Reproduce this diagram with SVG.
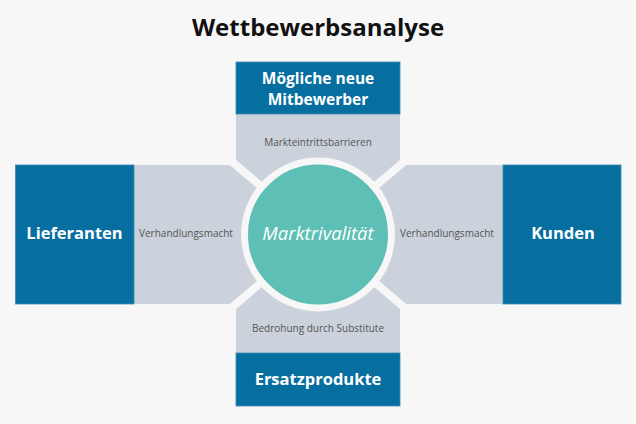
<svg xmlns="http://www.w3.org/2000/svg" width="636" height="424" viewBox="0 0 636 424">
  <style>
    .bg { fill: #f7f7f7; }
    .blue { fill: #076f9f; stroke: #3a8cb5; stroke-width: 0.8; }
    .arm { fill: #cbd2db; }
    .sep { stroke: #f7f7f7; stroke-width: 8; fill: none; }
    .title { font-family: "Open Sans", "Liberation Sans", sans-serif; font-weight: 700; font-size: 24px; fill: #111111; text-anchor: middle; }
    .head { font-family: "Open Sans", "Liberation Sans", sans-serif; font-weight: 700; font-size: 16.5px; fill: #ffffff; text-anchor: middle; }
    .head2 { font-size: 15.5px; }
    .lbl { font-family: "Open Sans", "Liberation Sans", sans-serif; font-size: 10px; fill: #555555; text-anchor: middle; }
    .core { font-family: "Open Sans", "Liberation Sans", sans-serif; font-style: italic; font-size: 18.5px; fill: #ffffff; text-anchor: middle; }
  </style>
  <rect class="bg" x="0" y="0" width="636" height="424"/>
  <text class="title" x="318" y="36">Wettbewerbsanalyse</text>

  <g id="arms">
    <rect class="arm" x="236" y="114" width="164" height="239"/>
    <rect class="arm" x="134" y="165" width="369" height="139"/>
  </g>

  <g id="connectors">
    <line class="sep" x1="318" y1="234.5" x2="211" y2="144"/>
    <line class="sep" x1="318" y1="234.5" x2="425" y2="144"/>
    <line class="sep" x1="318" y1="234.5" x2="211" y2="325"/>
    <line class="sep" x1="318" y1="234.5" x2="425" y2="325"/>
  </g>

  <g id="neue-mitbewerber">
    <rect class="blue" x="236" y="62" width="164" height="52"/>
    <text class="head head2" x="318" y="83.5">Mögliche neue<tspan x="318" dy="21.5">Mitbewerber</tspan></text>
    <text class="lbl" x="318" y="146">Markteintrittsbarrieren</text>
  </g>

  <g id="lieferanten">
    <rect class="blue" x="15.5" y="165" width="118.5" height="139"/>
    <text class="head" x="74.5" y="239">Lieferanten</text>
    <text class="lbl" x="186" y="237">Verhandlungsmacht</text>
  </g>

  <g id="kunden">
    <rect class="blue" x="503" y="165" width="118" height="139"/>
    <text class="head" x="563" y="239">Kunden</text>
    <text class="lbl" x="447" y="237">Verhandlungsmacht</text>
  </g>

  <g id="ersatzprodukte">
    <rect class="blue" x="236" y="353" width="164" height="53"/>
    <text class="head" x="318" y="385">Ersatzprodukte</text>
    <text class="lbl" x="318" y="332">Bedrohung durch Substitute</text>
  </g>

  <g id="marktrivalitaet">
    <circle cx="318" cy="234.5" r="73.5" fill="#5dbfb6" stroke="#f7f7f7" stroke-width="7"/>
    <text class="core" x="318" y="240">Marktrivalität</text>
  </g>
</svg>
